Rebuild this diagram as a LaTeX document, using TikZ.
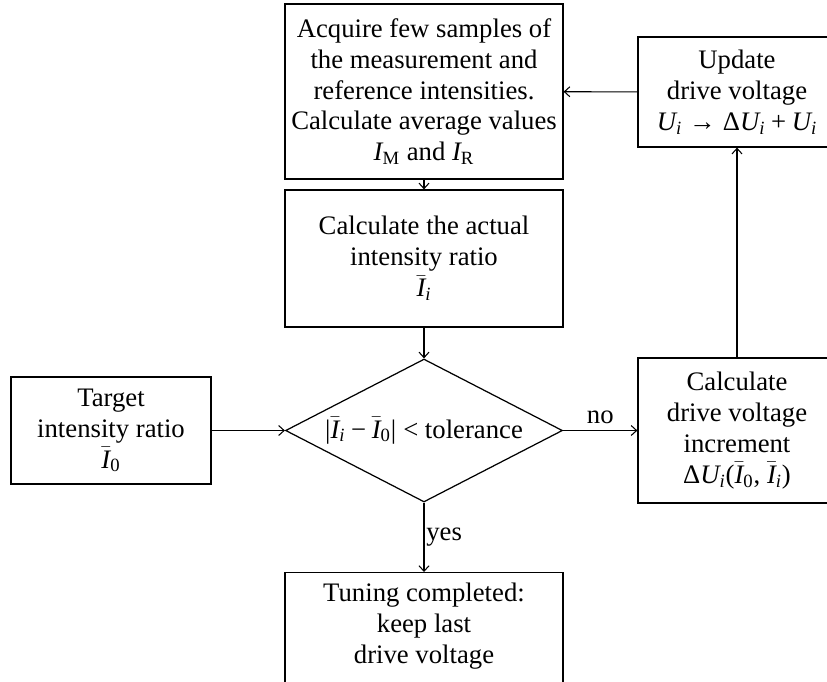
\documentclass[tikz,border=0pt]{standalone}
\usepackage{amsmath}
\usepackage{fontspec}
\setmainfont{Liberation Serif}
\usetikzlibrary{arrows.meta,positioning,shapes.geometric}
\newcommand{\mvar}[1]{\text{\itshape #1}}
\newcommand{\bI}{\bar{\mvar{I}}}
\newcommand{\tsym}[1]{\text{#1}}

\begin{document}
\begin{tikzpicture}[x=0.02cm, y=-0.02cm,
  font=\fontsize{15.2}{17.6}\selectfont,
  bx/.style={draw, line width=0.7pt, align=center, inner sep=2pt},
  dec/.style={draw, line width=0.7pt, diamond, aspect=1.94, inner sep=0pt},
  arr/.style={-{Straight Barb[length=1.1mm,width=2mm]}, line width=0.6pt}]
\useasboundingbox (0,0) rectangle (827,681);
\clip (0,0) rectangle (827,681);
% main column
\node[bx, minimum width=5.56cm, minimum height=3.5cm] (acq) at (424,91.5)
  {Acquire few samples of\\the measurement and\\reference intensities.\\Calculate average values\\$\mvar{I}_{\text{M}}$ and $\mvar{I}_{\text{R}}$};
\node[bx, minimum width=5.56cm, minimum height=2.74cm] (ratio) at (424,258.5)
  {Calculate the actual\\intensity ratio\\$\bI_{\mvar{i}}$};
\node[dec, minimum width=5.54cm, minimum height=2.86cm] (check) at (424,430.5)
  {$\tsym{|}\bI_{\mvar{i}} \mathbin{\tsym{−}} \bI_{\text{0}}\tsym{|} \mathrel{\tsym{<}}$ tolerance};
\node[bx, anchor=north, minimum width=5.56cm, inner ysep=6pt, text depth=3cm] (done) at (424,572)
  {Tuning completed:\\keep last\\drive voltage};
% side boxes
\node[bx, minimum width=4.0cm, minimum height=2.14cm] (target) at (111,430.5)
  {Target\\intensity ratio\\$\bI_{\text{0}}$};
\node[bx, minimum width=3.96cm, minimum height=2.9cm] (incr) at (737,430.5)
  {Calculate\\drive voltage\\increment\\$\tsym{Δ}\mvar{U}_{\mvar{i}}\tsym{(}\bI_{\text{0}}\tsym{, }\bI_{\mvar{i}}\tsym{)}$};
\node[bx, minimum width=3.96cm, minimum height=2.2cm] (upd) at (737,92)
  {Update\\drive voltage\\$\mvar{U}_{\mvar{i}} \mathrel{\tsym{→}} \tsym{Δ}\mvar{U}_{\mvar{i}} \mathbin{\tsym{+}} \mvar{U}_{\mvar{i}}$};
% connectors
\draw[arr] (acq) -- (ratio);
\draw[arr] (ratio) -- (check);
\draw[arr] (target) -- (check);
\draw[arr] (check) -- node[above] {no} (incr);
\draw[arr] (check) -- node[right, inner sep=1pt] {yes} (done);
\draw[arr] (incr) -- (upd);
\draw[arr] (upd) -- (acq);
\end{tikzpicture}
\end{document}
